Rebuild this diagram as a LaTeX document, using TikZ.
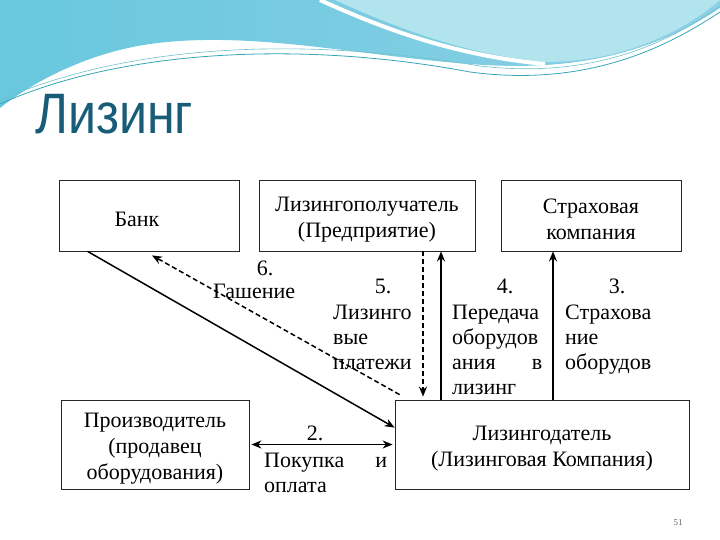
\documentclass[tikz,border=0pt]{standalone}
\usepackage{fontspec}
\setmainfont{Liberation Serif}
\newfontfamily\titlefont[FakeStretch=0.88]{Liberation Sans}
\usetikzlibrary{arrows.meta, positioning}

\definecolor{wave_left}{RGB}{104,200,222}
\definecolor{wave_right}{RGB}{140,208,230}
\definecolor{wave_light}{RGB}{178,228,238}
\definecolor{wave_line}{RGB}{52,165,180}
\definecolor{title_blue}{RGB}{24,92,120}

\begin{document}
\begin{tikzpicture}[
    x=1pt, y=-1pt,
    >={Stealth[length=10pt, width=8pt]}, % Set default arrow tip style
    box/.style={draw=black!85, line width=0.8pt, minimum width=#1, inner sep=0pt}, % Style for the boxes
    boxtext/.style={inner sep=0pt, align=center, yshift=-4pt, font=\fontsize{22}{26}\selectfont}, % Style for box texts
    flow/.style={->, line width=1.5pt}, % Style for solid arrows
    back_flow/.style={->, line width=1.5pt, dashed, dash pattern=on 5pt off 3pt}, % Style for dashed arrows
    labelstyle/.style={inner sep=0pt, align=left, font=\fontsize{22}{25}\selectfont}, % Style for step texts
    numstyle/.style={inner sep=0pt, font=\fontsize{22}{25}\selectfont} % Style for step numbers
]
    \useasboundingbox (0,0) rectangle (720,540);

    % --- Background wave ---
    \shade[left color=wave_left, right color=wave_right]
        (0,0) -- (720,0) -- (720,8) .. controls (650,55) and (570,72) .. (470,64)
        .. controls (360,56) and (250,30) .. (150,44) .. controls (80,54) and (25,88) .. (0,108) -- cycle;
    \fill[wave_light] (335,0) .. controls (400,30) and (470,55) .. (545,62)
        .. controls (625,62) and (685,30) .. (720,0) -- cycle;
    \draw[white, line width=4pt] (320,0) .. controls (390,32) and (460,56) .. (545,64);
    \draw[wave_line, line width=0.8pt] (0,104) .. controls (120,50) and (300,40) .. (470,72)
        .. controls (590,88) and (670,45) .. (720,12);
    \draw[wave_line!70, line width=0.6pt] (0,100) .. controls (130,44) and (300,36) .. (480,66)
        .. controls (600,80) and (675,38) .. (720,6);

    % --- Title ---
    \node[anchor=base west, inner sep=0pt, text=title_blue, font=\titlefont\fontsize{57}{60}\selectfont]
        (title) at (35,134) {Лизинг};

    % --- Boxes ---
    \node[box=180pt, minimum height=71pt] (bank) at (149,215.5) {};
    \node[box=216pt, minimum height=71pt] (lessee) at (367,215.5) {};
    \node[box=180pt, minimum height=71pt] (insurer) at (591,215.5) {};
    \node[box=188pt, minimum height=89pt] (producer) at (155,444.5) {};
    \node[box=294pt, minimum height=89pt] (lessor) at (542,444.5) {};

    \node[boxtext, xshift=-12pt] (bank_t) at (bank) {Банк};
    \node[boxtext] (lessee_t) at (lessee) {Лизингополучатель\\(Предприятие)};
    \node[boxtext] (insurer_t) at (insurer) {Страховая\\компания};
    \node[boxtext] (producer_t) at (producer) {Производитель\\(продавец\\оборудования)};
    \node[boxtext] (lessor_t) at (lessor) {Лизингодатель\\(Лизинговая Компания)};

    % --- Connector ends ---
    \coordinate (c5) at ([xshift=56pt]lessee.south);
    \coordinate (c4) at ([xshift=74pt]lessee.south);
    \coordinate (c3) at ([xshift=-38pt]insurer.south);

    % --- Connectors ---
    \draw[flow] ([xshift=29pt]bank.south west) -- ([yshift=-28pt]lessor.north west);
    \draw[back_flow] ([xshift=5pt, yshift=5pt]lessor.north west) -- ([xshift=3pt, yshift=-4pt]bank.south);
    \draw[back_flow] (c5) -- ([yshift=3pt]lessor.north -| c5);
    \draw[flow] (lessor.north -| c4) -- (c4);
    \draw[flow] (lessor.north -| c3) -- (c3);
    \draw[flow, <->, shorten <=2pt, shorten >=2pt] (producer.east) -- (lessor.west);

    % --- Step labels ---
    \node[numstyle] (n6) at (265,268) {6.};
    \node[labelstyle, anchor=west] (t6) at (213,291) {Гашение};

    \node[numstyle] (n5) at (383,286) {5.};
    \node[labelstyle, anchor=north west] (t5) at (333,305) {Лизинго\\вые\\платежи};

    \node[numstyle] (n4) at (505,286) {4.};
    \node[labelstyle, anchor=north west] (t4) at (452,305)
        {Передача\\оборудов\\\makebox[90pt][l]{ания\hfill в}\\лизинг};

    \node[numstyle] (n3) at (617,286) {3.};
    \node[labelstyle, anchor=north west] (t3) at (565,305) {Страхова\\ние\\оборудов};

    \node[numstyle] (n2) at (315,433) {2.};
    \node[labelstyle, anchor=north west] (t2) at (264,453)
        {\makebox[123pt][l]{Покупка\hfill и}\\оплата};

    % --- Page number ---
    \node[text=black!60, font=\fontsize{9}{10}\selectfont] (page) at (678,523) {51};
\end{tikzpicture}
\end{document}
